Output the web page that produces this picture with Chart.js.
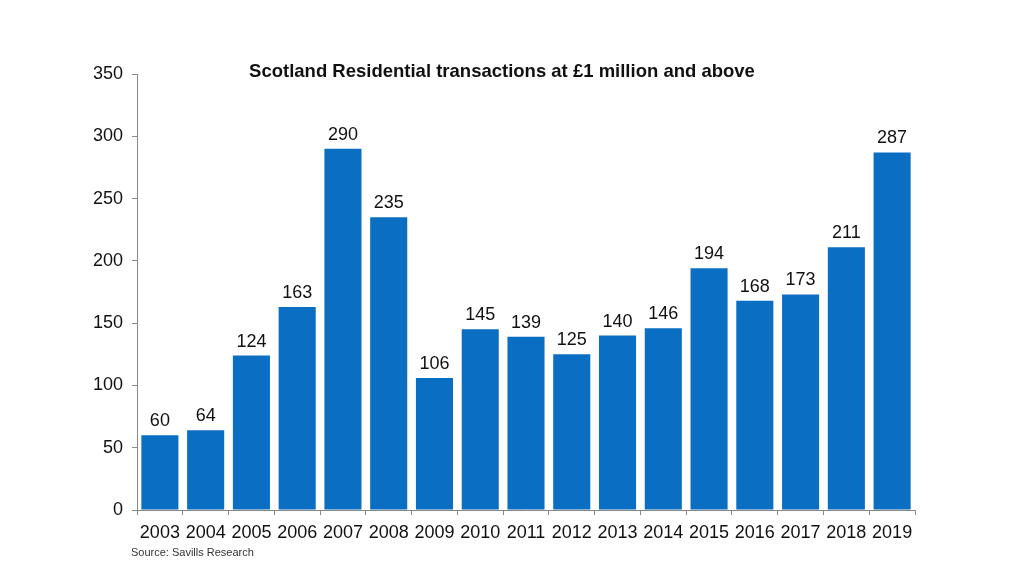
<!DOCTYPE html>
<html><head><meta charset="utf-8">
<script src="https://cdn.jsdelivr.net/npm/chart.js@4/dist/chart.umd.min.js"></script>
<style>
html,body{margin:0;padding:0;background:#fff;}
#wrap{position:relative;width:1024px;height:582px;}
#title{position:absolute;left:0;width:1004px;top:60px;line-height:1;text-align:center;font:bold 18.5px "Liberation Sans",Arial,sans-serif;color:#111;white-space:nowrap;}
#source{position:absolute;left:131px;top:546px;font:11px "Liberation Sans",Arial,sans-serif;color:#333;}
</style></head>
<body>
<div id="wrap">
<canvas id="c" width="1024" height="582"></canvas>
<div id="title">Scotland Residential transactions at £1 million and above</div>
<div id="source">Source: Savills Research</div>
</div>
<script>
const years = ["2003","2004","2005","2006","2007","2008","2009","2010","2011","2012","2013","2014","2015","2016","2017","2018","2019"];
const transactions = [60,64,124,163,290,235,106,145,139,125,140,146,194,168,173,211,287];
const yTicks = [0,50,100,150,200,250,300,350];

const valueLabels = {
  id:'valueLabels',
  afterDatasetsDraw(chart){
    const ctx = chart.ctx;
    const meta = chart.getDatasetMeta(0);
    ctx.save();
    ctx.font = '18px "Liberation Sans", Arial, sans-serif';
    ctx.fillStyle = '#111';
    ctx.textAlign = 'center';
    ctx.textBaseline = 'bottom';
    meta.data.forEach((bar,i)=>{
      ctx.fillText(String(chart.data.datasets[0].data[i]), bar.x, bar.y - 5);
    });
    ctx.restore();
  }
};

new Chart(document.getElementById('c'), {
  type:'bar',
  data:{labels:years, datasets:[{data:transactions, backgroundColor:'#0A6FC2', borderWidth:0, barPercentage:0.81, categoryPercentage:1}]},
  options:{
    responsive:false, animation:false,
    layout:{padding:{top:74,right:109,left:0,bottom:0}},
    plugins:{legend:{display:false}, title:{display:false}, tooltip:{enabled:false}},
    scales:{
      x:{
        grid:{display:true, drawOnChartArea:false, drawTicks:true, tickLength:5, color:'#888', offset:true},
        border:{display:true, color:'#888', width:1},
        ticks:{color:'#111', font:{family:'"Liberation Sans", Arial, sans-serif', size:18}, padding:7, maxRotation:0, autoSkip:false},
        afterFit(s){ s.height = 72; }
      },
      y:{
        min:0, max:350,
        afterBuildTicks(s){ s.ticks = yTicks.map(v=>({value:v})); },
        grid:{display:true, drawOnChartArea:false, drawTicks:true, tickLength:5, color:'#888'},
        border:{display:true, color:'#888', width:1},
        ticks:{color:'#111', font:{family:'"Liberation Sans", Arial, sans-serif', size:18}, padding:9},
        afterFit(s){ s.width = 137; }
      }
    }
  },
  plugins:[valueLabels]
});
</script>
</body></html>
